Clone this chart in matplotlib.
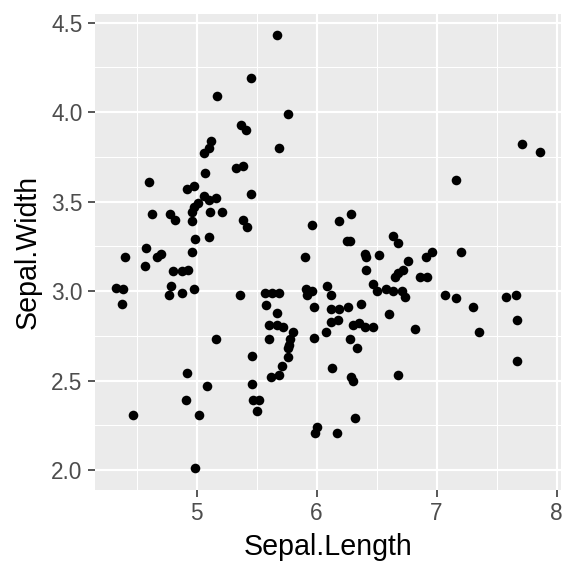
import matplotlib
matplotlib.use("Agg")
import matplotlib.pyplot as plt
import numpy as np

sepal_length = [
    5.45, 5.17, 5.37, 5.41, 5.12, 5.10, 5.06,
    5.67, 5.76, 5.69,
    7.71, 7.86,
    5.33, 5.39, 5.07, 4.60, 4.92, 4.98, 5.45, 4.63, 4.78, 4.82, 5.39, 5.42,
    4.99, 5.10, 4.58, 4.67, 4.70, 4.96, 4.40, 4.57, 4.80, 4.88, 4.93, 4.33,
    4.39, 4.79, 4.77, 4.88, 4.98, 4.38, 5.36,
    5.06, 5.10, 5.01, 4.98, 4.96, 4.96, 5.16, 5.11, 5.21,
    6.29, 6.19, 5.96, 6.64, 6.68, 6.25, 6.28, 5.90, 6.40, 6.41, 6.52, 6.76,
    6.41, 6.65, 6.68, 6.72, 6.47, 6.50, 6.58, 6.64, 6.71, 6.74, 6.09, 6.12,
    5.91, 5.92, 5.96, 5.57, 5.63, 5.69, 5.58, 5.67, 5.98, 6.12, 6.19, 6.26,
    6.37, 6.60,
    7.16, 6.96, 6.91, 7.20, 6.86, 6.92, 7.07, 7.16, 7.30, 7.58, 7.66, 7.67,
    6.82, 7.35, 7.67,
    5.16, 5.46, 4.92, 5.09, 5.46, 4.91, 5.47, 5.52, 5.50, 4.47, 5.02, 4.99,
    5.60, 5.67, 5.72, 5.80, 5.60, 5.78, 5.77, 5.76, 5.76, 5.71, 5.69, 5.62,
    5.98, 6.08, 6.12, 6.18, 6.30, 6.35, 6.40, 6.47, 6.28, 6.34, 6.13, 6.29,
    6.30, 6.68, 6.32, 6.00, 5.99, 6.17,
]
sepal_width = [
    4.19, 4.09, 3.93, 3.90, 3.84, 3.80, 3.77,
    4.43, 3.99, 3.80,
    3.82, 3.78,
    3.69, 3.70, 3.66, 3.61, 3.57, 3.59, 3.54, 3.43, 3.43, 3.40, 3.40, 3.36,
    3.29, 3.30, 3.24, 3.19, 3.21, 3.22, 3.19, 3.14, 3.11, 3.11, 3.12, 3.02,
    3.01, 3.03, 2.98, 2.99, 3.01, 2.93, 2.98,
    3.53, 3.51, 3.49, 3.47, 3.44, 3.39, 3.52, 3.44, 3.44,
    3.43, 3.39, 3.37, 3.31, 3.27, 3.28, 3.28, 3.19, 3.21, 3.19, 3.20, 3.17,
    3.12, 3.08, 3.10, 3.12, 3.04, 3.00, 3.01, 3.00, 3.00, 2.97, 3.03, 2.98,
    3.01, 2.98, 3.00, 2.99, 2.99, 2.99, 2.92, 2.88, 2.91, 2.90, 2.90, 2.91,
    2.93, 2.87,
    3.62, 3.22, 3.19, 3.22, 3.08, 3.08, 2.98, 2.96, 2.91, 2.97, 2.98, 2.84,
    2.79, 2.77, 2.61,
    2.73, 2.64, 2.54, 2.47, 2.48, 2.39, 2.39, 2.39, 2.33, 2.31, 2.31, 2.01,
    2.81, 2.81, 2.80, 2.77, 2.73, 2.73, 2.70, 2.68, 2.63, 2.58, 2.53, 2.52,
    2.74, 2.77, 2.83, 2.84, 2.81, 2.82, 2.80, 2.80, 2.73, 2.68, 2.57, 2.52,
    2.50, 2.53, 2.29, 2.24, 2.21, 2.21,
]

x_major = [5, 6, 7, 8]
x_minor = [4.5, 5.5, 6.5, 7.5]
y_major = [2.0, 2.5, 3.0, 3.5, 4.0, 4.5]
y_minor = [2.25, 2.75, 3.25, 3.75, 4.25]
y_labels = ["2.0", "2.5", "3.0", "3.5", "4.0", "4.5"]

plt.rcParams['font.family'] = ['Liberation Sans', 'DejaVu Sans']

W = 576
fig = plt.figure(figsize=(6, 6), dpi=96)
# panel in pixel coords: left 95, right 561, top 13.5, bottom 490
ax = fig.add_axes([95 / W, 1 - 490 / W, (561 - 95) / W, (490 - 13.5) / W])
ax.set_facecolor("#EBEBEB")
for s in ax.spines.values():
    s.set_visible(False)

ax.scatter(sepal_length, sepal_width, s=52, color="black", linewidths=0, zorder=3)
ax.margins(0.05)

ax.set_xticks(x_major)
ax.set_xticks(x_minor, minor=True)
ax.set_yticks(y_major)
ax.set_yticks(y_minor, minor=True)
ax.set_yticklabels(y_labels)

ax.grid(which="major", color="white", linewidth=1.6, zorder=0)
ax.grid(which="minor", color="white", linewidth=0.8, zorder=0)
ax.set_axisbelow(True)

ax.tick_params(which="major", length=5.3, width=1.2, color="#333333",
               labelsize=17, labelcolor="#4D4D4D", pad=4)
ax.tick_params(which="minor", length=0)

ax.set_xlabel("Sepal.Length", fontsize=21.5, color="black", labelpad=6)
ax.set_ylabel("Sepal.Width", fontsize=21.5, color="black", labelpad=7)

fig.savefig("out.png", dpi=96)
